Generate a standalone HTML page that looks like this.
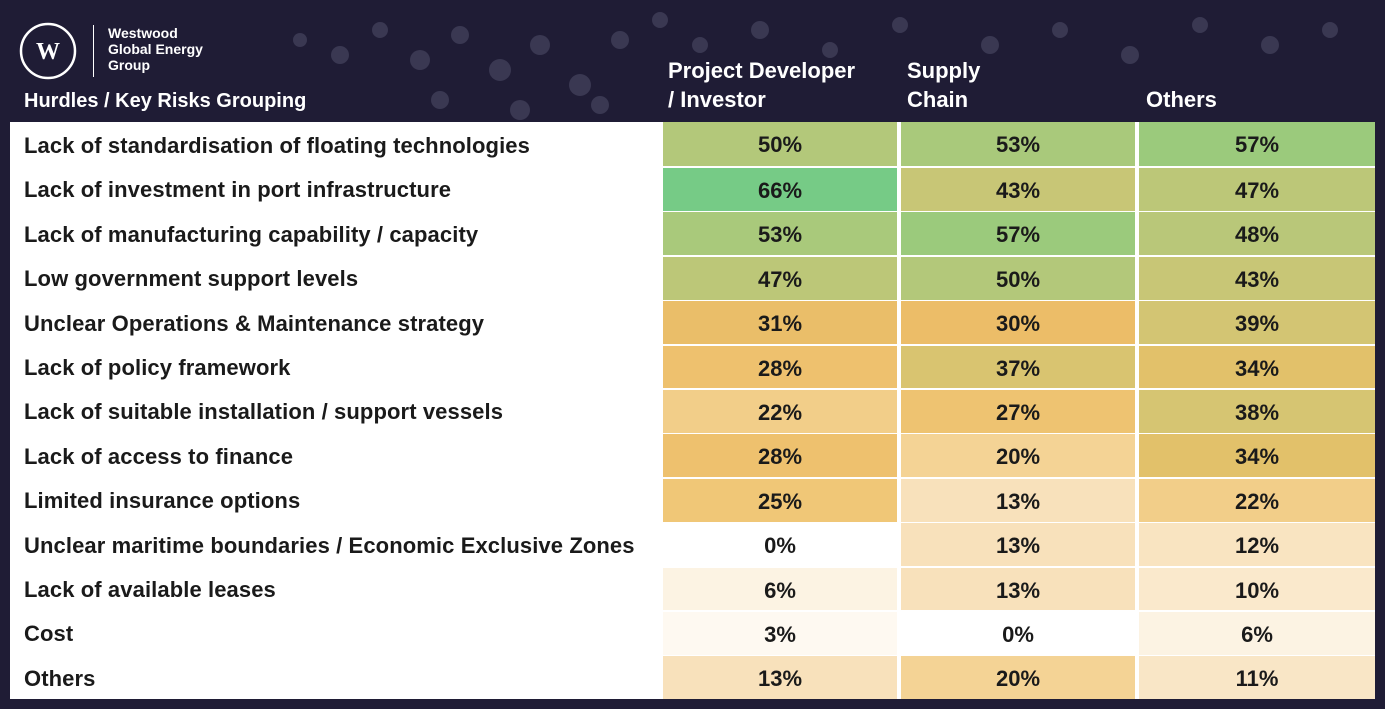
<!DOCTYPE html>
<html><head><meta charset="utf-8"><style>
body{margin:0;width:1385px;height:709px;background:#1f1c35;overflow:hidden;font-family:"Liberation Sans",sans-serif;position:relative}
.a{position:absolute}
.hdr{color:#fff;font-size:22px;line-height:29px;font-weight:bold}
.lab{position:absolute;left:24px;font-size:22px;font-weight:bold;color:#1a1a1a;line-height:45px;white-space:nowrap;letter-spacing:0.1px}
.cell{position:absolute;text-align:center;font-size:22px;font-weight:bold;color:#1a1a1a;line-height:45px}
</style></head><body>
<svg class="a" style="left:0;top:0" width="1385" height="709">
<g fill="#3a3852">
<circle cx="300" cy="40" r="7"/><circle cx="340" cy="55" r="9"/><circle cx="380" cy="30" r="8"/><circle cx="420" cy="60" r="10"/><circle cx="460" cy="35" r="9"/><circle cx="500" cy="70" r="11"/><circle cx="540" cy="45" r="10"/><circle cx="580" cy="85" r="11"/><circle cx="620" cy="40" r="9"/><circle cx="660" cy="20" r="8"/><circle cx="700" cy="45" r="8"/><circle cx="760" cy="30" r="9"/><circle cx="830" cy="50" r="8"/><circle cx="900" cy="25" r="8"/><circle cx="990" cy="45" r="9"/><circle cx="1060" cy="30" r="8"/><circle cx="1130" cy="55" r="9"/><circle cx="1200" cy="25" r="8"/><circle cx="1270" cy="45" r="9"/><circle cx="1330" cy="30" r="8"/><circle cx="440" cy="100" r="9"/><circle cx="520" cy="110" r="10"/><circle cx="600" cy="105" r="9"/>
</g>
<rect x="10" y="122" width="1365" height="577" fill="#fff"/>
</svg>
<svg class="a" style="left:18px;top:22px" width="62" height="58"><circle cx="30" cy="29" r="27" fill="none" stroke="#fff" stroke-width="2.5"/><text x="30" y="37" fill="#fff" font-size="24" font-weight="bold" text-anchor="middle" font-family="Liberation Serif">W</text></svg>
<div class="a" style="left:93px;top:25px;width:1px;height:52px;background:#fff"></div>
<div class="a" style="left:108px;top:25px;color:#fff;font-size:14px;font-weight:bold;line-height:16px">Westwood<br>Global Energy<br>Group</div>
<div class="a hdr" style="left:24px;top:87px;font-size:20px">Hurdles / Key Risks Grouping</div>
<div class="a hdr" style="left:668px;top:56px">Project Developer<br>/ Investor</div>
<div class="a hdr" style="left:907px;top:56px">Supply<br>Chain</div>
<div class="a hdr" style="left:1146px;top:85px">Others</div>
<div id="tbl"></div>
<script>
const categories=["Lack of standardisation of floating technologies","Lack of investment in port infrastructure","Lack of manufacturing capability / capacity","Low government support levels","Unclear Operations & Maintenance strategy","Lack of policy framework","Lack of suitable installation / support vessels","Lack of access to finance","Limited insurance options","Unclear maritime boundaries / Economic Exclusive Zones","Lack of available leases","Cost","Others"];
const developer=[50,66,53,47,31,28,22,28,25,0,6,3,13];
const supply=[53,43,57,50,30,37,27,20,13,13,13,0,20];
const others=[57,47,48,43,39,34,38,34,22,12,10,6,11];
const series=[developer,supply,others];
const stops=[[0,[255,255,255]],[6,[252,243,227]],[13,[248,225,187]],[20,[244,211,149]],[25,[240,199,119]],[30,[236,189,104]],[34,[226,193,106]],[38,[214,197,114]],[43,[200,198,118]],[50,[179,200,122]],[57,[155,202,124]],[66,[118,203,134]]];
function col(v){for(let i=1;i<stops.length;i++){if(v<=stops[i][0]){const a=stops[i-1],b=stops[i];const t=(v-a[0])/(b[0]-a[0]);return 'rgb('+a[1].map((c,k)=>Math.round(c+(b[1][k]-c)*t)).join(',')+')';}}return 'rgb(118,203,134)';}
const top0=122,rowH=44.4;
const colX=[663,901,1139],colW=[234,234,236];
const tbl=document.getElementById('tbl');
categories.forEach((c,i)=>{
 const y=top0+i*rowH;
 const l=document.createElement('div');l.className='lab';l.style.top=(y+1)+'px';l.textContent=c;
 
 
 tbl.appendChild(l);
 series.forEach((s,j)=>{
  const d=document.createElement('div');d.className='cell';
  d.style.left=colX[j]+'px';d.style.top=(y+(i?1.5:0))+'px';d.style.width=colW[j]+'px';d.style.height=(rowH-(i?1.5:0))+'px';
  d.style.background=col(s[i]);d.textContent=s[i]+'%';
  
  
  tbl.appendChild(d);
 });
});
</script>
</body></html>
